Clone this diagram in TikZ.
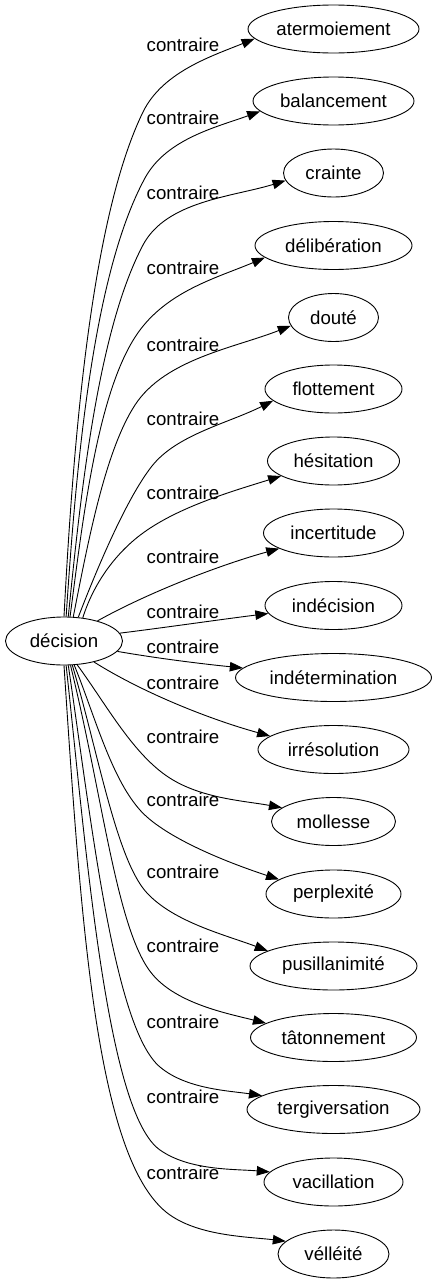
\documentclass[tikz,border=0pt]{standalone}
\usepackage{fontspec}
\setmainfont{Liberation Sans}
\usetikzlibrary{shapes.geometric,arrows.meta}
\begin{document}
\begin{tikzpicture}[x=1pt,y=-1pt,
  every node/.style={font=\fontsize{18.67}{22}\selectfont},
  tnode/.style={ellipse,draw,line width=0.9pt,inner sep=0pt,minimum height=48pt},
  lbl/.style={inner sep=0pt},
  conn/.style={line width=0.9pt,-{Triangle[length=13pt,width=9.5pt]}}
]
\useasboundingbox (0,0) rectangle (436,1283);
\node[tnode,minimum width=117pt] (dec) at (64,641) {décision};
\node[tnode,minimum width=171pt] (t0) at (333.5,29) {atermoiement};
\node[tnode,minimum width=161pt] (t1) at (333.5,101) {balancement};
\node[tnode,minimum width=100pt] (t2) at (333.5,173) {crainte};
\node[tnode,minimum width=157pt] (t3) at (333.5,245.5) {délibération};
\node[tnode,minimum width=90pt] (t4) at (333.5,317.5) {douté};
\node[tnode,minimum width=137pt] (t5) at (333.5,389) {flottement};
\node[tnode,minimum width=132pt] (t6) at (333.5,461) {hésitation};
\node[tnode,minimum width=140pt] (t7) at (333.5,533) {incertitude};
\node[tnode,minimum width=137pt] (t8) at (333.5,605.5) {indécision};
\node[tnode,minimum width=196pt] (t9) at (333.5,677.5) {indétermination};
\node[tnode,minimum width=151pt] (t10) at (333.5,749.5) {irrésolution};
\node[tnode,minimum width=124pt] (t11) at (333.5,821.5) {mollesse};
\node[tnode,minimum width=135pt] (t12) at (333.5,894) {perplexité};
\node[tnode,minimum width=167pt] (t13) at (333.5,966) {pusillanimité};
\node[tnode,minimum width=166pt] (t14) at (333.5,1037.5) {tâtonnement};
\node[tnode,minimum width=173pt] (t15) at (333.5,1109.5) {tergiversation};
\node[tnode,minimum width=139pt] (t16) at (333.5,1182) {vacillation};
\node[tnode,minimum width=111pt] (t17) at (333.5,1254) {vélléité};

\foreach \i/\y in {0/45,1/118,2/193,3/268,4/345,5/419,6/493,7/557,8/612,9/647,10/683,11/737,12/800,13/872,14/946,15/1022,16/1097,17/1173}
  \node[lbl] (l\i) at (183,\y) {contraire};

\coordinate (m0) at (143,112);
\coordinate (m1) at (145,178);
\coordinate (m2) at (143,245);
\coordinate (m3) at (140,330);
\coordinate (m4) at (135,405);
\coordinate (m5) at (152,466);
\coordinate (m6) at (143,533);
\coordinate (m11) at (173,780);
\coordinate (m12) at (147,817);
\coordinate (m13) at (147,893);
\coordinate (m14) at (153,975);
\coordinate (m15) at (160,1067);
\coordinate (m16) at (160,1150);
\coordinate (m17) at (170,1215);

\draw[conn] (dec.90) .. controls +(9,-170) and +(-52.6,107.8) .. (m0) .. controls +(19.7,-40.4) and +(-41.6,17) .. (t0.187.6);
\draw[conn] (dec.85) .. controls +(10,-150) and +(-52.6,96.6) .. (m1) .. controls +(21.5,-39.5) and +(-42.3,15.5) .. (t1.188.5);
\draw[conn] (dec.80.5) .. controls +(13,-130) and +(-44.4,84) .. (m2) .. controls +(23.4,-44.2) and +(-52.6,16.2) .. (t2.189.3);
\draw[conn] (dec.76) .. controls +(13,-99) and +(-42,56) .. (m3) .. controls +(30,-40) and +(-46,19.5) .. (t3.190);
\draw[conn] (dec.69) .. controls +(14.5,-73.5) and +(-30,46) .. (m4) .. controls +(30,-46) and +(-56,22) .. (t4.191.2);
\draw[conn] (dec.59) .. controls +(20,-52) and +(-24.8,31.4) .. (m5) .. controls +(24.8,-31.4) and +(-44.7,22.4) .. (t5.191);
\draw[conn] (dec.51.7) .. controls +(10.5,-33.4) and +(-28.4,20.7) .. (m6) .. controls +(36.5,-26.6) and +(-47.7,14.9) .. (t6.196.7);
\draw[conn] (dec.31) .. controls +(52,-29) and +(-58,16) .. (t7.196.7);
\draw[conn] (dec.8) .. controls +(48,-6) and +(-48,6) .. (t8.187.9);
\draw[conn] (dec.-11) .. controls +(40,7) and +(-40,-4) .. (t9.174.5);
\draw[conn] (dec.-35.6) .. controls +(51,32) and +(-58,-16) .. (t10.168.5);
\draw[conn] (dec.-61) .. controls +(29.5,40) and +(-38.8,-22.8) .. (m11) .. controls +(31.9,18.8) and +(-36.4,-6.7) .. (t11.165.8);
\draw[conn] (dec.-67) .. controls +(21,51) and +(-33.8,-29.7) .. (m12) .. controls +(30,26.4) and +(-42.8,-14) .. (t12.165.8);
\draw[conn] (dec.-71.4) .. controls +(25.6,86.2) and +(-30.6,-32.9) .. (m13) .. controls +(27.2,29.2) and +(-42.1,-15.8) .. (t13.167.7);
\draw[conn] (dec.-75.9) .. controls +(33.3,135.9) and +(-35.9,-41.7) .. (m14) .. controls +(24.8,28.8) and +(-38.8,-9.7) .. (t14.168.5);
\draw[conn] (dec.-80.5) .. controls +(23.4,158.2) and +(-46,-38.6) .. (m15) .. controls +(26,21.9) and +(-33.7,-4.9) .. (t15.169.4);
\draw[conn] (dec.-85.2) .. controls +(20.5,188.9) and +(-53.2,-37.3) .. (m16) .. controls +(29.5,20.7) and +(-35.9,-3) .. (t16.171.3);
\draw[conn] (dec.-90) .. controls +(17.2,259.5) and +(-73.7,-51.7) .. (m17) .. controls +(30.3,21.2) and +(-36.7,-4.4) .. (t17.165);
\end{tikzpicture}
\end{document}
